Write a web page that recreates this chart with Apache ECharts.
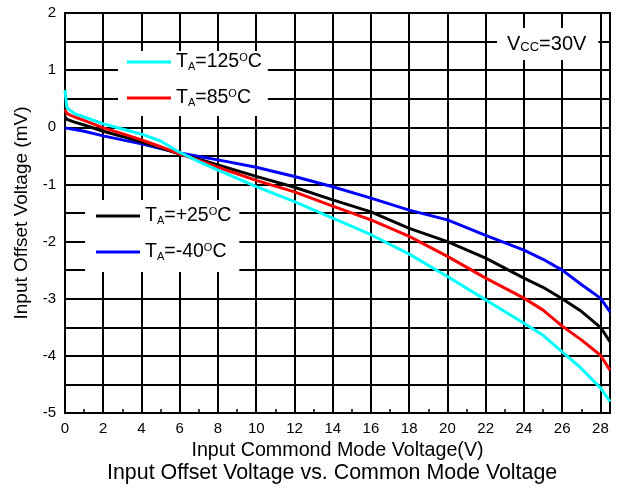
<!DOCTYPE html>
<html>
<head>
<meta charset="utf-8">
<script src="https://cdn.jsdelivr.net/npm/echarts@6/dist/echarts.min.js"></script>
<style>html,body{margin:0;padding:0;background:#fff}#c{width:625px;height:492px}</style>
</head>
<body>
<div id="c"></div>
<script>
const xs = [0, 0.1, 0.5, 1, 2, 3, 4, 5, 6, 7, 8, 10, 12, 14, 16, 18, 20, 22, 24, 25, 26, 27, 28, 28.5];
const t125 = [0.65, 0.34, 0.24, 0.18, 0.06, -0.03, -0.12, -0.24, -0.44, -0.6, -0.75, -1.04, -1.30, -1.59, -1.88, -2.22, -2.61, -3.02, -3.43, -3.64, -3.93, -4.22, -4.56, -4.8];
const t85 = [0.31, 0.24, 0.18, 0.12, -0.01, -0.11, -0.22, -0.34, -0.47, -0.58, -0.70, -0.93, -1.13, -1.38, -1.62, -1.91, -2.26, -2.64, -2.99, -3.2, -3.48, -3.72, -3.99, -4.25];
const t25 = [0.18, 0.14, 0.09, 0.04, -0.07, -0.16, -0.26, -0.36, -0.47, -0.56, -0.66, -0.86, -1.05, -1.27, -1.48, -1.77, -2.0, -2.29, -2.64, -2.8, -3.0, -3.22, -3.5, -3.75];
const tm40 = [-0.01, -0.02, -0.04, -0.07, -0.15, -0.22, -0.29, -0.37, -0.45, -0.51, -0.57, -0.70, -0.86, -1.04, -1.24, -1.45, -1.62, -1.89, -2.15, -2.31, -2.5, -2.75, -2.99, -3.23];
const seriesNames = ['-40', '+25', '85', '125'];
const seriesColors = ['#0000ff', '#000000', '#ff0000', '#00ffff'];
const seriesValues = [tm40, t25, t85, t125];

const FONT = '"Liberation Sans", Arial, sans-serif';
const pair = vals => xs.map((x, i) => [x, vals[i]]);

const legendRich = {
  t: { fontSize: 19.5, fontFamily: FONT, color: '#000', fontWeight: 'normal', lineHeight: 20 },
  s: { fontSize: 11, fontFamily: FONT, color: '#000', fontWeight: 'normal', verticalAlign: 'bottom', lineHeight: 4 },
  u: { fontSize: 11, fontFamily: FONT, color: '#000', fontWeight: 'normal', verticalAlign: 'top', lineHeight: 12 }
};
const legendFmt = name => `{t|T}{s|A}{t|=${name}}{u|O}{t|C}`;

const chart = echarts.init(document.getElementById('c'), null, { renderer: 'canvas' });
chart.setOption({
  animation: false,
  backgroundColor: '#fff',
  textStyle: { fontFamily: FONT },
  title: [
    {
      text: 'Input Offset Voltage vs. Common Mode Voltage',
      left: 107, top: 463, padding: 0,
      textStyle: { fontSize: 21.4, fontWeight: 'normal', color: '#000', fontFamily: FONT }
    },
    {
      text: '{t|V}{s|CC}{t|=30V}',
      left: 497, top: 28,
      padding: [6, 12, 6, 10],
      backgroundColor: '#fff',
      textStyle: {
        fontWeight: 'normal',
        rich: {
          t: { fontSize: 20, fontFamily: FONT, color: '#000', fontWeight: 'normal', lineHeight: 20 },
          s: { fontSize: 13, fontFamily: FONT, color: '#000', fontWeight: 'normal', verticalAlign: 'bottom', lineHeight: 6 }
        }
      }
    }
  ],
  grid: { left: 65, right: 15, top: 13, bottom: 79, show: true, borderColor: '#000', borderWidth: 2, backgroundColor: 'transparent' },
  legend: [
    {
      data: ['125', '85'], orient: 'vertical', left: 118, top: 51,
      padding: [1, 6, 8, 9], itemGap: 16, backgroundColor: '#fff',
      icon: 'rect', itemWidth: 44, itemHeight: 3,
      formatter: legendFmt, textStyle: { rich: legendRich }
    },
    {
      data: ['+25', '-40'], orient: 'vertical', left: 85, top: 200,
      padding: [6, 8, 10, 11], itemGap: 16, backgroundColor: '#fff',
      icon: 'rect', itemWidth: 44, itemHeight: 3,
      formatter: legendFmt, textStyle: { rich: legendRich }
    }
  ],
  xAxis: {
    type: 'value', min: 0, max: 28.5, interval: 2,
    name: 'Input Commond Mode Voltage(V)', nameLocation: 'middle', nameGap: 27,
    nameTextStyle: { fontSize: 19.7, color: '#000', fontFamily: FONT },
    axisLine: { show: true, onZero: false, lineStyle: { color: '#000', width: 2 } },
    axisTick: { show: false, inside: true },
    minorTick: { show: true, splitNumber: 2, length: 4, lineStyle: { color: '#000', width: 1.5 } },
    axisLabel: {
      fontSize: 15, color: '#000', margin: 8, showMaxLabel: false,
      formatter: v => (Math.abs(v % 2) < 1e-9 ? String(v) : '')
    },
    splitLine: { show: true, lineStyle: { color: '#000', width: 2 } }
  },
  yAxis: {
    type: 'value', min: -5, max: 2, interval: 0.5,
    name: 'Input Offset Voltage (mV)', nameLocation: 'middle', nameGap: 33,
    nameTextStyle: { fontSize: 19, color: '#000', fontFamily: FONT },
    axisLine: { show: true, onZero: false, lineStyle: { color: '#000', width: 2 } },
    axisTick: { show: false },
    axisLabel: {
      fontSize: 15, color: '#000', margin: 9,
      formatter: v => (Math.abs(v % 1) < 1e-9 ? String(v) : '')
    },
    splitLine: { show: true, lineStyle: { color: '#000', width: 2 } }
  },
  series: seriesNames.map((n, i) => ({
    name: n, type: 'line', data: pair(seriesValues[i]),
    showSymbol: false, symbol: 'none', smooth: false,
    lineStyle: { color: seriesColors[i], width: 3 },
    itemStyle: { color: seriesColors[i] },
    z: 3 + i
  }))
});
</script>
</body>
</html>
